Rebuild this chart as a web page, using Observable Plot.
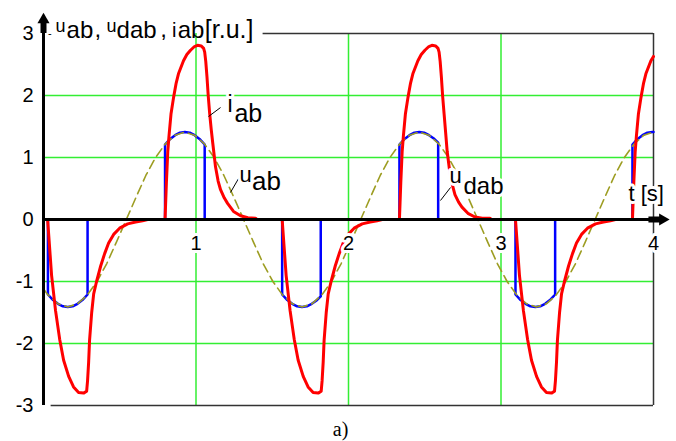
<!DOCTYPE html>
<html>
<head>
<meta charset="utf-8">
<script src="https://cdn.jsdelivr.net/npm/d3@7"></script>
<script src="https://cdn.jsdelivr.net/npm/@observablehq/plot@0.6"></script>
<style>
  html, body { margin: 0; padding: 0; background: #fff; }
</style>
</head>
<body>
<div id="chart"></div>
<script>
// Line voltage u_ab [r.u.] sampled over time [s]
const uabT = [0, 0.031, 0.095, 0.159, 0.223, 0.287, 0.351, 0.415, 0.479, 0.543, 0.607, 0.671, 0.735, 0.799, 0.863, 0.927, 0.991, 1.055, 1.119, 1.183, 1.248, 1.312, 1.376, 1.440, 1.504, 1.568, 1.632, 1.696, 1.760, 1.824, 1.888, 1.952, 2.016, 2.080, 2.144, 2.208, 2.272, 2.336, 2.400, 2.464, 2.528, 2.592, 2.656, 2.720, 2.784, 2.848, 2.912, 2.976, 3.040, 3.104, 3.168, 3.232, 3.297, 3.361, 3.425, 3.489, 3.553, 3.617, 3.681, 3.745, 3.809, 3.873, 3.937, 4.000];
const uabV = [-1.12, -1.22, -1.36,
  -1.41, -1.36, -1.22, -1.00, -0.71, -0.36, 0, 0.36, 0.71, 1.00, 1.22, 1.36, 1.41, 1.36, 1.22, 1.00, 0.71, 0.36, 0, -0.36, -0.71, -1.00, -1.22, -1.36,
  -1.41, -1.36, -1.22, -1.00, -0.71, -0.36, 0, 0.36, 0.71, 1.00, 1.22, 1.36, 1.41, 1.36, 1.22, 1.00, 0.71, 0.36, 0, -0.36, -0.71, -1.00, -1.22, -1.36,
  -1.41, -1.36, -1.22, -1.00, -0.71, -0.36, 0, 0.36, 0.71, 1.00, 1.22, 1.36, 1.41];

// Controlled voltage u_dab: follows u_ab only while the valves conduct
const udabT = [0, 0.029, 0.029, 0.063, 0.095, 0.127, 0.159, 0.191, 0.223, 0.255, 0.289, 0.289,
  0.797, 0.797, 0.831, 0.863, 0.895, 0.927, 0.959, 0.991, 1.023, 1.057, 1.057,
  1.565, 1.565, 1.599, 1.631, 1.663, 1.695, 1.727, 1.759, 1.788, 1.818, 1.818,
  2.334, 2.334, 2.368, 2.400, 2.432, 2.464, 2.496, 2.528, 2.557, 2.588, 2.588,
  3.095, 3.095, 3.129, 3.161, 3.193, 3.225, 3.257, 3.289, 3.321, 3.355, 3.355,
  3.862, 3.862, 3.896, 3.928, 3.960, 3.992, 4.000];
const udabV = [0, 0, -1.21, -1.30, -1.36, -1.40, -1.41, -1.40, -1.36, -1.30, -1.21, 0,
  0, 1.21, 1.30, 1.36, 1.40, 1.41, 1.40, 1.36, 1.30, 1.21, 0,
  0, -1.21, -1.30, -1.36, -1.40, -1.41, -1.40, -1.36, -1.31, -1.24, 0,
  0, 1.21, 1.30, 1.36, 1.40, 1.41, 1.40, 1.36, 1.31, 1.24, 0,
  0, -1.21, -1.30, -1.36, -1.40, -1.41, -1.40, -1.36, -1.30, -1.21, 0,
  0, 1.21, 1.30, 1.36, 1.40, 1.41, 1.41];

// Line current i_ab pulses
const iabT = [
  0, 0.027, 0.053, 0.079, 0.106, 0.132, 0.165, 0.197, 0.230, 0.263, 0.283, 0.289, 0.296, 0.302, 0.316, 0.329, 0.348, 0.375, 0.401, 0.427, 0.460, 0.499, 0.552, 0.604, 0.650, 0.683,
  0.797, 0.806, 0.815, 0.823, 0.836, 0.853, 0.870, 0.885, 0.918, 0.940, 0.964, 0.990, 1.010, 1.035, 1.050, 1.057, 1.064, 1.072, 1.080, 1.090, 1.100, 1.110, 1.128, 1.145, 1.161, 1.185, 1.207, 1.246, 1.292, 1.340, 1.390, 1.400,
  1.565, 1.591, 1.617, 1.644, 1.670, 1.703, 1.735, 1.768, 1.801, 1.821, 1.827, 1.834, 1.840, 1.854, 1.867, 1.886, 1.913, 1.939, 1.965, 1.998, 2.037, 2.090, 2.142, 2.188, 2.221,
  2.334, 2.343, 2.352, 2.360, 2.373, 2.390, 2.407, 2.422, 2.455, 2.477, 2.501, 2.527, 2.547, 2.572, 2.587, 2.594, 2.601, 2.609, 2.617, 2.627, 2.637, 2.647, 2.665, 2.682, 2.698, 2.722, 2.744, 2.783, 2.829, 2.877, 2.927, 2.937,
  3.095, 3.121, 3.147, 3.174, 3.200, 3.233, 3.265, 3.298, 3.331, 3.351, 3.357, 3.364, 3.370, 3.384, 3.397, 3.416, 3.443, 3.469, 3.495, 3.528, 3.567, 3.620, 3.672, 3.718, 3.751,
  3.862, 3.871, 3.880, 3.888, 3.901, 3.918, 3.935, 3.950, 3.983, 4.000];
const iabV = [
  0, 0, -0.90, -1.47, -1.93, -2.27, -2.53, -2.70, -2.79, -2.80, -2.77, -2.60, -2.30, -1.95, -1.50, -1.20, -1.00, -0.75, -0.55, -0.38, -0.24, -0.14, -0.07, -0.04, -0.02, 0,
  0, 0.60, 1.10, 1.35, 1.70, 1.97, 2.20, 2.35, 2.56, 2.66, 2.73, 2.79, 2.81, 2.80, 2.76, 2.70, 2.55, 2.30, 2.00, 1.70, 1.45, 1.23, 0.85, 0.62, 0.48, 0.35, 0.26, 0.13, 0.06, 0.03, 0.02, 0,
  0, -0.90, -1.47, -1.93, -2.27, -2.53, -2.70, -2.79, -2.80, -2.77, -2.60, -2.30, -1.95, -1.50, -1.20, -1.00, -0.75, -0.55, -0.38, -0.24, -0.14, -0.07, -0.04, -0.02, 0,
  0, 0.60, 1.10, 1.35, 1.70, 1.97, 2.20, 2.35, 2.56, 2.66, 2.73, 2.79, 2.81, 2.80, 2.76, 2.70, 2.55, 2.30, 2.00, 1.70, 1.40, 1.10, 0.75, 0.55, 0.40, 0.28, 0.20, 0.10, 0.04, 0.02, 0.02, 0,
  0, -0.90, -1.47, -1.93, -2.27, -2.53, -2.70, -2.79, -2.80, -2.77, -2.60, -2.30, -1.95, -1.50, -1.20, -1.00, -0.75, -0.55, -0.38, -0.24, -0.14, -0.07, -0.04, -0.02, 0,
  0, 0.60, 1.10, 1.35, 1.70, 1.97, 2.20, 2.35, 2.56, 2.63];

// Axis ticks and grid positions
const xTicks = [1, 2, 3, 4];
const yTicks = [-3, -2, -1, 0, 1, 2, 3];
const gridX = [1, 2, 3];
const gridY = [-2, -1, 1, 2];

const pairs = (T, V) => T.map((t, i) => ({t, v: V[i]}));
const uab = pairs(uabT, uabV);
const udab = pairs(udabT, udabV);
const iab = pairs(iabT, iabV);

const green = "#33ee33";
const olive = "#9d9d22";
const sans = '"Liberation Sans", Arial, sans-serif';

// a text fragment whose baseline sits at (x, y), starting at x
function word(text, x, y, size, extra = {}) {
  return Plot.text([text], {
    x: () => x, y: () => y, text: d => d,
    fontSize: size, textAnchor: "start", lineAnchor: "bottom",
    fill: "black", ...extra
  });
}
const halo = {stroke: "white", strokeWidth: 6};

const chart = Plot.plot({
  width: 676,
  height: 441,
  marginLeft: 43,
  marginRight: 23,
  marginTop: 33,
  marginBottom: 36,
  x: {domain: [0, 4], axis: null},
  y: {domain: [-3, 3], axis: null},
  style: {fontFamily: sans, background: "white", overflow: "visible"},
  marks: [
    // grid
    Plot.ruleX(gridX, {stroke: green, strokeWidth: 1.5}),
    Plot.ruleY(gridY, {stroke: green, strokeWidth: 1.5}),
    // plot box
    Plot.ruleY([3], {x1: 1.44, x2: 4, stroke: "#333", strokeWidth: 1.5}),
    Plot.ruleY([-3], {x1: 0.05, x2: 4, stroke: "#333", strokeWidth: 1.5}),
    Plot.ruleX([4], {y1: -3, y2: 3, stroke: "#333", strokeWidth: 1.5}),

    // curves
    Plot.line(udab, {x: "t", y: "v", stroke: "#0000ff", strokeWidth: 2.5}),
    Plot.line(uab, {x: "t", y: "v", stroke: olive, strokeWidth: 1.6, strokeDasharray: "9,5"}),
    Plot.line(iab, {x: "t", y: "v", stroke: "#ff0000", strokeWidth: 3, strokeLinejoin: "round"}),

    // axes with arrows
    Plot.ruleX([0], {y1: -3, y2: 3.2, stroke: "black", strokeWidth: 3}),
    Plot.ruleY([0], {x1: 0, x2: 4.05, stroke: "black", strokeWidth: 3}),
    Plot.ruleX([0], {y1: 3.0, y2: 3.2, stroke: "black", strokeWidth: 6}),
    Plot.dot([0], {x: 0, y: 3.22, symbol: "triangle", r: 4.5, fill: "black"}),
    Plot.ruleY([0], {x1: 3.97, x2: 4.05, stroke: "black", strokeWidth: 6}),
    Plot.dot([0], {x: 4.06, y: 0, symbol: "triangle", r: 4.5, fill: "black", rotate: 90}),

    // tick labels
    Plot.text(yTicks, {x: 0, y: d => d, text: d => String(d), dx: -10, textAnchor: "end", fontSize: 20, fill: "black"}),
    Plot.text(xTicks, {x: d => d, y: 0, text: d => String(d), dy: 24, fontSize: 20, fill: "black", ...halo}),

    // axis titles
    word("-", 0.03, 2.95, 11),
    word("u", 0.079, 3.03, 18),
    word("ab", 0.151, 2.935, 24),
    word(",", 0.334, 2.95, 24),
    word("u", 0.413, 3.03, 18),
    word("dab", 0.479, 2.935, 24),
    word(",", 0.765, 2.95, 24),
    word("i", 0.842, 2.95, 20),
    word("ab", 0.880, 2.935, 24),
    word("[r.u.]", 1.058, 2.935, 25),
    word("t [s]", 3.836, 0.306, 22, halo),

    // curve labels with leader lines
    Plot.link([0], {x1: 1.082, y1: 1.661, x2: 1.161, y2: 1.806, stroke: "black", strokeWidth: 1}),
    Plot.link([0], {x1: 1.226, y1: 0.435, x2: 1.279, y2: 0.661, stroke: "black", strokeWidth: 1}),
    Plot.link([0], {x1: 2.603, y1: 0.306, x2: 2.669, y2: 0.516, stroke: "black", strokeWidth: 1}),
    word("i", 1.207, 1.726, 23, halo),
    word("ab", 1.252, 1.565, 25, halo),
    word("u", 1.285, 0.597, 22, halo),
    word("ab", 1.368, 0.468, 26, halo),
    word("u", 2.663, 0.581, 22, halo),
    word("dab", 2.754, 0.419, 24, halo),

    // panel caption
    Plot.text(["a)"], {x: () => 1.948, y: () => -3, text: d => d, dy: 30, lineAnchor: "bottom",
      fontFamily: '"Liberation Serif", "Times New Roman", serif', fontSize: 20, fill: "black"})
  ]
});

document.getElementById("chart").appendChild(chart);
</script>
</body>
</html>
